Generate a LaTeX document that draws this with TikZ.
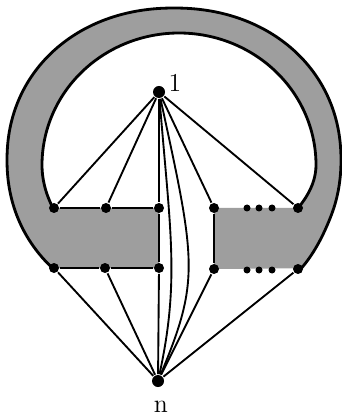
\documentclass[tikz,border=0pt]{standalone}
\usepackage{tikz}
\definecolor{ringGray}{gray}{0.62}

\begin{document}
\begin{tikzpicture}[x=0.15mm, y=-0.15mm, line width=0.8pt,
  vtx/.style={circle,fill=black,minimum size=1.5mm,inner sep=0pt},
  topvtx/.style={vtx,minimum size=1.8mm},
  dotv/.style={circle,fill=black,minimum size=1.05mm,inner sep=0pt},
  rim/.style={line width=1.2pt},
  lbl/.style={font=\fontsize{11}{13}\selectfont,inner sep=0pt},
  declare function={
    sq(\u)=\u*\u;
    se(\u)=\u*max(abs(\u),0.001)^(-0.05);
    ox(\t)=174+167*se(cos(\t))*(1+0.05*sq(max(0,-\t-20)/24.4));
    oy(\t)=160-152*se(sin(\t));
    ix(\t)=179+137*cos(\t)*(1-0.081*sq(max(0,-\t)/19)-0.027*sq(max(0,\t-180)/19));
    iy(\t)=165-132*sin(\t);}]
\useasboundingbox (0,0) rectangle (341,416);
% --- shaded ring with the two blocks ---
  \fill[ringGray] plot[domain=-44.4:224.4,samples=100,smooth] ({ox(\x)},{oy(\x)})
    -- (159,268) -- (159,208)
    -- plot[domain=199:-19,samples=90,smooth] ({ix(\x)},{iy(\x)})
    -- (214,208) -- (214,269) -- cycle;
  \draw[rim] plot[domain=-44.4:224.4,samples=100,smooth] ({ox(\x)},{oy(\x)});
  \draw[rim] plot[domain=199:-19,samples=90,smooth] ({ix(\x)},{iy(\x)});
% --- vertices ---
  \node[topvtx] (v1) at (159,92) {};
  \node[topvtx] (vn) at (158,381) {};
  \node[vtx] (a1) at (54,208) {};
  \node[vtx] (a2) at (106,208) {};
  \node[vtx] (a3) at (159,208) {};
  \node[vtx] (b1) at (214,208) {};
  \node[vtx] (b2) at (298,208) {};
  \node[vtx] (c1) at (54,268) {};
  \node[vtx] (c2) at (105,268) {};
  \node[vtx] (c3) at (159,268) {};
  \node[vtx] (d1) at (214,269) {};
  \node[vtx] (d2) at (298,269) {};
  \foreach \x/\i in {247/1,259/2,272/3} {
    \node[dotv] (p\i) at (\x,208) {};
    \node[dotv] (q\i) at (\x,270) {};
  }
  \node[lbl] (l1) at (175,83) {1};
  \node[lbl] (ln) at (161,407) {n};
% --- edges ---
  \foreach \v in {a1,a2,a3,b1,b2} \draw (v1) -- (\v);
  \foreach \v in {c1,c2,c3,d1,d2} \draw (vn) -- (\v);
  \draw (a1) -- (a2) -- (a3) -- (c3) -- (c2) -- (c1);
  \draw (b1) -- (d1);
  \draw (v1) .. controls (170,230) and (180,280) .. (vn);
  \draw (v1) .. controls (196,262) and (200,280) .. (vn);
\end{tikzpicture}
\end{document}
